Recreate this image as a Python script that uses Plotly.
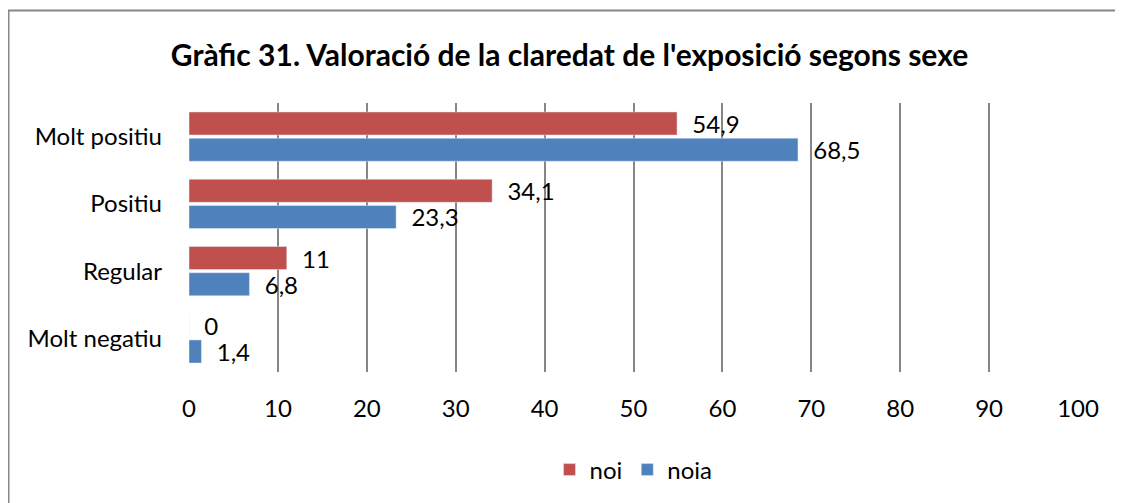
import plotly.graph_objects as go

categories = ["Molt negatiu", "Regular", "Positiu", "Molt positiu"]
noi = [0, 11, 34.1, 54.9]
noia = [1.4, 6.8, 23.3, 68.5]
x_ticks = [0, 10, 20, 30, 40, 50, 60, 70, 80, 90, 100]


def fmt(v):
    # comma decimals like the original, pushed off the bar end a little
    return "  " + ("%g" % v).replace(".", ",")


fig = go.Figure()

# noia first so it sits below noi in each group
fig.add_trace(go.Bar(
    y=categories, x=noia, name="noia", orientation="h",
    marker=dict(color="#4F81BD"),
    text=[fmt(v) for v in noia], textposition="outside", constraintext="none",
    textfont=dict(size=24, color="black"), cliponaxis=False,
))
fig.add_trace(go.Bar(
    y=categories, x=noi, name="noi", orientation="h",
    marker=dict(color="#C0504D"),
    text=[fmt(v) for v in noi], textposition="outside", constraintext="none",
    textfont=dict(size=24, color="black"), cliponaxis=False,
))

fig.update_xaxes(range=[0, 100], tickvals=x_ticks, showgrid=True,
                 gridcolor="#868686", gridwidth=2, zeroline=False,
                 showline=False, ticks="", ticklabelstandoff=20,
                 tickfont=dict(size=24, color="black"))
fig.update_yaxes(showgrid=False, showline=False, ticks="",
                 ticklabelstandoff=26,
                 tickfont=dict(size=24, color="black"))

# page body adds 8px, so plot area sits at 181..1070 / 95..364 in figure px
L, R, T, B = 181, 1070, 95, 364
pw, ph = R - L, B - T

# chart border (only left/top visible in the picture)
fig.add_shape(type="rect", xref="paper", yref="paper",
              x0=(0.5 - L) / pw, x1=(1140 - L) / pw,
              y0=(B - 520) / ph, y1=(B - 2.5) / ph,
              line=dict(color="#868686", width=2))

fig.update_layout(
    width=1123, height=503,
    margin=dict(l=L, r=1123 - R, t=T, b=503 - B),
    paper_bgcolor="white", plot_bgcolor="white",
    font=dict(family="Lato, Open Sans, sans-serif", color="black"),
    title=dict(text="<b>Gràfic 31. Valoració de la claredat de l'exposició segons sexe</b>",
               x=0.5, xanchor="center", y=1 - 47 / 503, yanchor="middle",
               font=dict(size=30, color="black")),
    barmode="group", bargap=0.22, bargroupgap=0.12,
    legend=dict(orientation="h", x=0.5, xanchor="center", y=(B - 462) / ph,
                yanchor="middle", traceorder="reversed",
                font=dict(size=24, color="black")),
)

fig.write_html("out.html")
